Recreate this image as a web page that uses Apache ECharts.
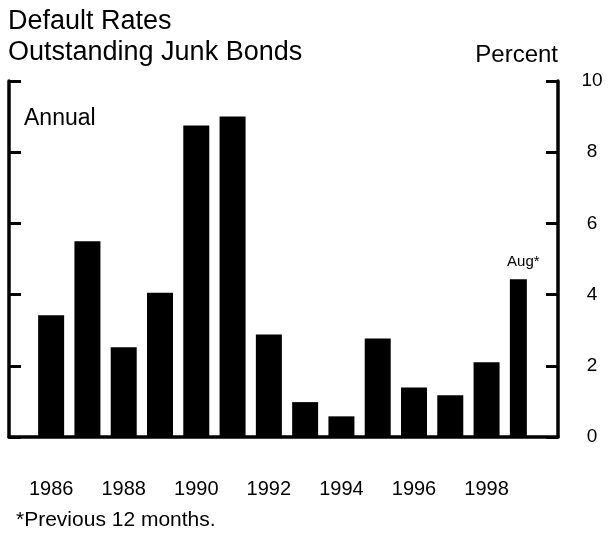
<!DOCTYPE html>
<html>
<head>
    <meta charset="utf-8">
    <title>Default Rates</title>
    <script src="https://cdn.jsdelivr.net/npm/echarts@6/dist/echarts.min.js"></script>
</head>
<body style="margin:0;background:#fff">
<div id="container" style="width:609px;height:539px"></div>

<script type="text/javascript">
    // 数据
    var years = ['1986', '1987', '1988', '1989', '1990', '1991', '1992',
                 '1993', '1994', '1995', '1996', '1997', '1998', '1999'];
    var annualRates = [3.42, 5.5, 2.52, 4.05, 8.75, 9.0, 2.88,
                       0.98, 0.58, 2.77, 1.39, 1.17, 2.1, null];
    // 1999: previous 12 months to August
    var partialRates = [null, null, null, null, null, null, null,
                        null, null, null, null, null, null, 4.43];
    var partialLabel = 'Aug*';
    var yMin = 0, yMax = 10, yStep = 2;

    var font = 'Liberation Sans, Arial, Helvetica, sans-serif';
    var mychart = echarts.init(document.getElementById('container'));

    var frameAxis = {
        type: 'value', gridIndex: 0, min: yMin, max: yMax, interval: yStep,
        axisLine: {show: true, lineStyle: {color: '#000', width: 3.5}},
        axisTick: {show: true, inside: true, length: 12, lineStyle: {color: '#000', width: 3}},
        splitLine: {show: false}
    };

    var options = {
        backgroundColor: '#fff',
        animation: false,
        title: [
            {text: 'Default Rates\nOutstanding Junk Bonds', left: 8, top: 6, padding: 0,
             textStyle: {fontFamily: font, fontSize: 27, fontWeight: 'normal', color: '#000', lineHeight: 31}},
            {text: 'Annual', left: 24, top: 107, padding: 0,
             textStyle: {fontFamily: font, fontSize: 23, fontWeight: 'normal', color: '#000'}},
            {text: '*Previous 12 months.', left: 16, top: 510, padding: 0,
             textStyle: {fontFamily: font, fontSize: 21, fontWeight: 'normal', color: '#000'}}
        ],
        grid: [
            {left: 9, right: 51, top: 81, bottom: 102, outerBoundsMode: 'none', containLabel: false},
            {left: 33, right: 68, top: 81, bottom: 102, outerBoundsMode: 'none', containLabel: false}
        ],
        xAxis: [
            {type: 'category', gridIndex: 0, data: [''],
             axisLine: {show: true, lineStyle: {color: '#000', width: 3.5}},
             axisTick: {show: false}, axisLabel: {show: false}},
            {type: 'category', gridIndex: 1, data: years,
             axisLine: {show: false}, axisTick: {show: false},
             axisLabel: {interval: 1, margin: 42, color: '#000', fontFamily: font, fontSize: 20}}
        ],
        yAxis: [
            Object.assign({}, frameAxis, {
                position: 'right',
                name: 'Percent', nameLocation: 'end', nameGap: 14,
                nameTextStyle: {fontFamily: font, fontSize: 24, color: '#000', align: 'right', verticalAlign: 'bottom'},
                axisLabel: {show: true, margin: 34, align: 'center', color: '#000', fontFamily: font, fontSize: 19}
            }),
            Object.assign({}, frameAxis, {position: 'left', axisLabel: {show: false}}),
            {type: 'value', gridIndex: 1, min: yMin, max: yMax, interval: yStep, show: false}
        ],
        series: [
            {
                type: 'bar', xAxisIndex: 1, yAxisIndex: 2,
                data: partialRates, barWidth: 17, barGap: '-100%',
                itemStyle: {color: '#000'},
                label: {show: true, position: 'top', distance: 10, offset: [5, 0],
                        formatter: partialLabel, color: '#000', fontFamily: font, fontSize: 15}
            },
            {
                type: 'bar', xAxisIndex: 1, yAxisIndex: 2,
                data: annualRates, barWidth: 26, barGap: '-100%',
                itemStyle: {color: '#000'}
            }
        ]
    };

    mychart.setOption(options);
</script>
</body>
</html>
